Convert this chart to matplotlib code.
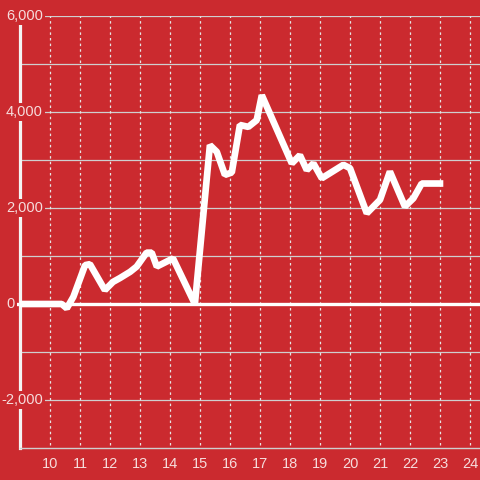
import matplotlib
matplotlib.use("Agg")
import matplotlib.pyplot as plt
import matplotlib.transforms as mtransforms

# data
x_vals = [9.0, 10.39, 10.56, 10.78, 11.17, 11.33, 11.83, 12.1, 12.33, 12.67, 12.89,
          13.22, 13.39, 13.56, 14.1, 14.83, 15.33, 15.56, 15.83, 16.06, 16.33, 16.61,
          16.89, 17.06, 18.06, 18.33, 18.56, 18.78, 19.06, 19.78, 20.0, 20.56, 21.0,
          21.33, 21.83, 22.11, 22.39, 23.11]
y_vals = [0, 0, -90, 150, 810, 830, 290, 460, 540, 670, 780,
          1070, 1070, 780, 950, 0, 3310, 3170, 2690, 2740, 3730, 3690,
          3830, 4350, 2930, 3100, 2790, 2930, 2620, 2900, 2830, 1890, 2170,
          2760, 2030, 2200, 2510, 2510]
x_ticks = [10, 11, 12, 13, 14, 15, 16, 17, 18, 19, 20, 21, 22, 23, 24]
y_ticks = [-2000, 0, 2000, 4000, 6000]
y_tick_labels = ["-2,000", "0", "2,000", "4,000", "6,000"]
y_grid = [-2000, -1000, 1000, 2000, 3000, 4000, 5000, 6000]

BG = "#cb2a2f"
TXT = "#f6dcdc"
GRID = "#cfcfcf"

plt.rcParams['font.family'] = ['Liberation Sans', 'DejaVu Sans']

fig = plt.figure(figsize=(4.8, 4.8), dpi=100)
fig.patch.set_facecolor(BG)
ax = fig.add_axes([20/480, 32/480, 460/480, 432/480])
ax.set_facecolor(BG)
ax.set_xlim(9, 9 + 460/30)
ax.set_ylim(-3000, 6000)

for g in y_grid:
    ax.axhline(g, color=GRID, lw=0.9, zorder=1)
for t in x_ticks:
    ax.axvline(t, ymin=0.007, color="#e6e6e6", lw=0.9, ls=(0, (2, 2.5)), zorder=1)

ax.axhline(0, xmin=-3/460, xmax=1, color="white", lw=2.4, zorder=2, clip_on=False)

ax.plot(x_vals, y_vals, color="white", lw=4.8, solid_joinstyle="bevel",
        solid_capstyle="butt", zorder=3)

for s in ["top", "right"]:
    ax.spines[s].set_visible(False)
ax.spines["left"].set_color("#f4f4f4")
ax.spines["left"].set_linewidth(2.3)
ax.spines["left"].set_zorder(2.5)
ax.spines["bottom"].set_color(GRID)
ax.spines["bottom"].set_linewidth(1.0)

ax.set_xticks(x_ticks)
ax.set_xticklabels([str(t) for t in x_ticks])
ax.tick_params(axis="x", length=0, pad=6.5, labelcolor=TXT, labelsize=10.5)
ax.set_yticks([])

trans = mtransforms.blended_transform_factory(ax.transAxes, ax.transData)
for v, lab in zip(y_ticks, y_tick_labels):
    xpos = (43 - 20) / 460 if v != 0 else -5 / 460
    ax.text(xpos, v, lab, transform=trans, ha="right", va="center", color=TXT,
            fontsize=10.5, zorder=5, clip_on=False,
            bbox=dict(facecolor=BG, edgecolor="none", pad=1.2))

fig.savefig("out.png", dpi=100, facecolor=BG)
